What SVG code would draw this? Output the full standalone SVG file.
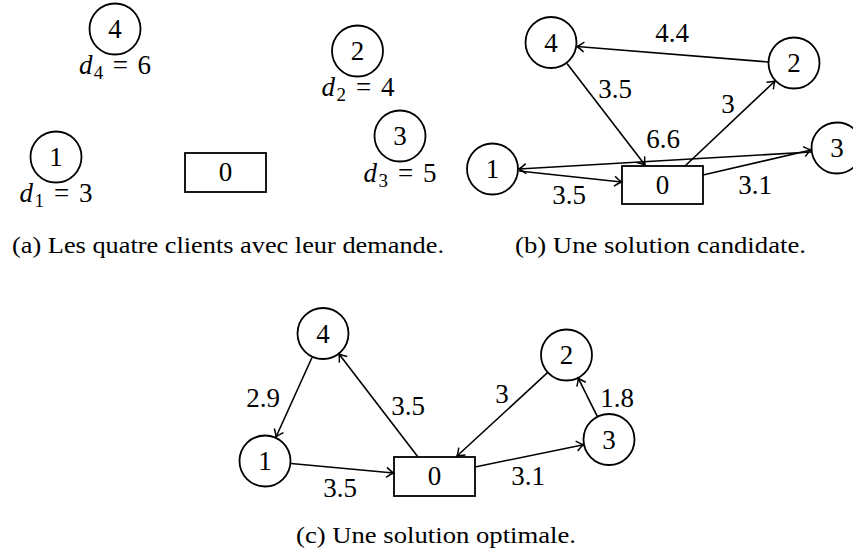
<svg xmlns="http://www.w3.org/2000/svg" width="853" height="554" viewBox="0 0 853 554">
<style>
text{font-family:'Liberation Serif','DejaVu Serif','Times New Roman',serif;fill:#000}
.n circle,.n rect{fill:none;stroke:#000;stroke-width:1.8}
.t{font-size:27px;text-anchor:middle}
.d{font-size:27px;text-anchor:middle}
.cap{font-size:23px}
.e line{stroke:#000;stroke-width:1.6;fill:none;marker-end:url(#arr)}
</style>
<defs>
<marker id="arr" markerUnits="userSpaceOnUse" markerWidth="20" markerHeight="20" viewBox="-10 -10 20 20" refX="0" refY="0" orient="auto" overflow="visible">
<path d="M -7 -5 Q -2.5 -1.2 0 0 Q -2.5 1.2 -7 5" fill="none" stroke="#000" stroke-width="1.5"/>
</marker>
</defs>
<rect width="853" height="554" fill="#fff"/>

<!-- Panel (a) -->
<g id="a-n4" class="n"><circle cx="115" cy="29" r="25.5"/><text class="t" x="115" y="38">4</text>
<text class="d" x="115" y="74" textLength="72"><tspan font-style="italic">d</tspan><tspan font-size="19" dy="5">4</tspan><tspan dy="-5"> = 6</tspan></text></g>
<g id="a-n1" class="n"><circle cx="56" cy="157" r="25.5"/><text class="t" x="56" y="166">1</text>
<text class="d" x="56" y="202" textLength="73"><tspan font-style="italic">d</tspan><tspan font-size="19" dy="5">1</tspan><tspan dy="-5"> = 3</tspan></text></g>
<g id="a-n0" class="n"><rect x="185" y="153" width="81" height="39"/><text class="t" x="225.5" y="181">0</text></g>
<g id="a-n2" class="n"><circle cx="357.5" cy="51" r="25.5"/><text class="t" x="357.5" y="60">2</text>
<text class="d" x="358" y="96" textLength="73"><tspan font-style="italic">d</tspan><tspan font-size="19" dy="5">2</tspan><tspan dy="-5"> = 4</tspan></text></g>
<g id="a-n3" class="n"><circle cx="400" cy="136" r="25.5"/><text class="t" x="400" y="145">3</text>
<text class="d" x="400" y="182" textLength="73"><tspan font-style="italic">d</tspan><tspan font-size="19" dy="5">3</tspan><tspan dy="-5"> = 5</tspan></text></g>
<text class="cap" x="12" y="253" textLength="432" lengthAdjust="spacingAndGlyphs">(a) Les quatre clients avec leur demande.</text>

<!-- Panel (b) -->
<g id="b-n4" class="n"><circle cx="551" cy="42.5" r="25.5"/><text class="t" x="551" y="51.5">4</text></g>
<g id="b-n2" class="n"><circle cx="794" cy="63" r="25.5"/><text class="t" x="794" y="72">2</text></g>
<g id="b-n1" class="n"><circle cx="492.5" cy="169" r="25.5"/><text class="t" x="492.5" y="178">1</text></g>
<g id="b-n3" class="n"><circle cx="837" cy="148" r="25.5"/><text class="t" x="837" y="157">3</text></g>
<g id="b-n0" class="n"><rect x="622" y="166" width="81" height="38"/><text class="t" x="662.5" y="194">0</text></g>
<g id="b-edges" class="e">
<line x1="768" y1="62" x2="577" y2="46.5"/>
<line x1="567" y1="63.5" x2="645" y2="165"/>
<line x1="685" y1="166" x2="775" y2="81"/>
<line x1="811" y1="152" x2="519" y2="169"/>
<line x1="519" y1="171" x2="621.5" y2="182"/>
<line x1="703" y1="175" x2="811" y2="150"/>
</g>
<g id="b-labels">
<text class="t" x="672" y="42">4.4</text>
<text class="t" x="615" y="98">3.5</text>
<text class="t" x="728" y="113">3</text>
<text class="t" x="663" y="148">6.6</text>
<text class="t" x="569" y="204">3.5</text>
<text class="t" x="755" y="194">3.1</text>
</g>
<text class="cap" x="515" y="253" textLength="291" lengthAdjust="spacingAndGlyphs">(b) Une solution candidate.</text>

<!-- Panel (c) -->
<g id="c-n4" class="n"><circle cx="323" cy="333.5" r="25.5"/><text class="t" x="323" y="342.5">4</text></g>
<g id="c-n2" class="n"><circle cx="566.5" cy="355" r="25.5"/><text class="t" x="566.5" y="364">2</text></g>
<g id="c-n1" class="n"><circle cx="265" cy="461" r="25.5"/><text class="t" x="265" y="470">1</text></g>
<g id="c-n3" class="n"><circle cx="609" cy="439.5" r="25.5"/><text class="t" x="609" y="448.5">3</text></g>
<g id="c-n0" class="n"><rect x="394" y="457" width="81" height="39"/><text class="t" x="434.5" y="485">0</text></g>
<g id="c-edges" class="e">
<line x1="312" y1="357.5" x2="276" y2="437"/>
<line x1="418" y1="457" x2="339" y2="354"/>
<line x1="547.5" y1="372.7" x2="457" y2="456"/>
<line x1="597.3" y1="416.3" x2="578.2" y2="378.2"/>
<line x1="291" y1="463.5" x2="393.5" y2="473"/>
<line x1="475" y1="467" x2="583.5" y2="444.7"/>
</g>
<g id="c-labels">
<text class="t" x="263" y="407">2.9</text>
<text class="t" x="408" y="415">3.5</text>
<text class="t" x="502" y="403">3</text>
<text class="t" x="617" y="407">1.8</text>
<text class="t" x="340" y="497">3.5</text>
<text class="t" x="528" y="485">3.1</text>
</g>
<text class="cap" x="296" y="543" textLength="280" lengthAdjust="spacingAndGlyphs">(c) Une solution optimale.</text>
</svg>
